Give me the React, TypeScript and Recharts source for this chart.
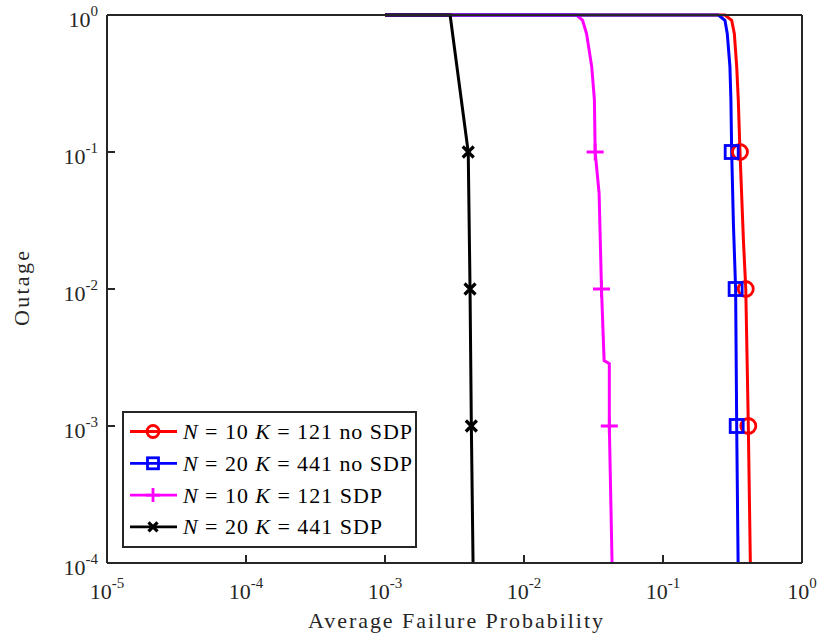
import React from 'react';
import { LineChart, Line, XAxis, YAxis } from 'recharts';

const xTicks = [1e-5, 1e-4, 1e-3, 1e-2, 1e-1, 1];
const yTicks = [1e-4, 1e-3, 1e-2, 1e-1, 1];
const markerLevels = [0.1, 0.01, 0.001];

// N = 10, K = 121, no SDP
const redX = [0.001, 0.279, 0.312, 0.326, 0.339, 0.348, 0.358, 0.379, 0.394, 0.411, 0.425];
const redY = [1, 1, 0.915, 0.73, 0.42, 0.24, 0.1, 0.0226, 0.01, 0.001, 0.0001];

// N = 20, K = 441, no SDP
const blueX = [0.001, 0.25, 0.279, 0.29, 0.303, 0.308, 0.312, 0.321, 0.333, 0.339, 0.347];
const blueY = [1, 1, 0.915, 0.73, 0.42, 0.24, 0.1, 0.03, 0.01, 0.001, 0.0001];

// N = 10, K = 121, SDP
const magentaX = [0.001, 0.0239, 0.0264, 0.0282, 0.0307, 0.0321, 0.0325, 0.0347, 0.0361, 0.0377, 0.0411, 0.0411, 0.043];
const magentaY = [1, 1, 0.915, 0.73, 0.42, 0.24, 0.1, 0.05, 0.01, 0.003, 0.00285, 0.001, 0.0001];

// N = 20, K = 441, SDP
const blackX = [0.001, 0.00294, 0.00397, 0.00409, 0.00418, 0.0043];
const blackY = [1, 1, 0.1, 0.01, 0.001, 0.0001];

const legendN = ['10', '20', '10', '20'];
const legendK = ['121', '441', '121', '441'];
const legendTail = ['no SDP', 'no SDP', 'SDP', 'SDP'];

const axisColor = '#262626';
const font = '"Liberation Serif", "Times New Roman", serif';

const toPoints = (xs: number[], ys: number[]) => xs.map((x, i) => ({ x, y: ys[i] }));

type Kind = 'circle' | 'square' | 'plus' | 'cross';

const series = [
  { key: 'red', color: '#ff0000', kind: 'circle' as Kind, data: toPoints(redX, redY), size: 7.5 },
  { key: 'magenta', color: '#ff00ff', kind: 'plus' as Kind, data: toPoints(magentaX, magentaY), size: 8.5 },
  { key: 'blue', color: '#0000ff', kind: 'square' as Kind, data: toPoints(blueX, blueY), size: 6.5 },
  { key: 'black', color: '#000000', kind: 'cross' as Kind, data: toPoints(blackX, blackY), size: 5.5 },
];

const legendOrder = [
  { color: '#ff0000', kind: 'circle' as Kind, size: 6 },
  { color: '#0000ff', kind: 'square' as Kind, size: 5.5 },
  { color: '#ff00ff', kind: 'plus' as Kind, size: 7 },
  { color: '#000000', kind: 'cross' as Kind, size: 4.5 },
];

const Marker = ({ kind, cx, cy, color, s }: { kind: Kind; cx: number; cy: number; color: string; s: number }) => {
  const common = { fill: 'none', stroke: color, strokeWidth: 2.8 };
  if (kind === 'circle') return <circle cx={cx} cy={cy} r={s} {...common} />;
  if (kind === 'square') return <rect x={cx - s} y={cy - s} width={2 * s} height={2 * s} {...common} />;
  if (kind === 'plus') return <path d={`M${cx - s},${cy}H${cx + s}M${cx},${cy - s}V${cy + s}`} {...common} />;
  return <path d={`M${cx - s},${cy - s}L${cx + s},${cy + s}M${cx + s},${cy - s}L${cx - s},${cy + s}`} {...common} strokeWidth={3.2} />;
};

const makeDot = (kind: Kind, color: string, s: number) => (props: any) => {
  const { cx, cy, payload, index } = props;
  if (!markerLevels.includes(payload.y)) return <g key={`d${index}`} />;
  return <g key={`d${index}`}><Marker kind={kind} cx={cx} cy={cy} color={color} s={s} /></g>;
};

const exponent = (v: number) => Math.round(Math.log10(v));

const BottomTick = ({ x, y, payload }: any) => (
  <g>
    <line x1={x} y1={y} x2={x} y2={y - 8} stroke={axisColor} strokeWidth={2} />
    <text x={x} y={y + 36} textAnchor="middle" fontFamily={font} fontSize={22} fill={axisColor}>
      10<tspan dy={-11} fontSize={15}>{exponent(payload.value)}</tspan>
    </text>
  </g>
);

const TopTick = ({ x, y }: any) => (
  <line x1={x} y1={y} x2={x} y2={y + 8} stroke={axisColor} strokeWidth={2} />
);

const LeftTick = ({ x, y, payload }: any) => (
  <g>
    <line x1={x} y1={y} x2={x + 8} y2={y} stroke={axisColor} strokeWidth={2} />
    <text x={x - 9} y={y + 12} textAnchor="end" fontFamily={font} fontSize={22} fill={axisColor}>
      10<tspan dy={-11} fontSize={15}>{exponent(payload.value)}</tspan>
    </text>
  </g>
);

const RightTick = ({ x, y }: any) => (
  <line x1={x} y1={y} x2={x - 8} y2={y} stroke={axisColor} strokeWidth={2} />
);

const legendWidths = [229, 229, 199, 199];

const ChartLegend = () => (
  <svg width={296} height={138} style={{ position: 'absolute', left: 122, top: 411 }}>
    <rect x={1} y={1} width={293} height={135} fill="#ffffff" stroke={axisColor} strokeWidth={2} />
    {legendOrder.map((item, i) => {
      const cy = 20.5 + i * 31.8;
      return (
        <g key={i}>
          <line x1={8} y1={cy} x2={55} y2={cy} stroke={item.color} strokeWidth={2.8} />
          <Marker kind={item.kind} cx={31} cy={cy} color={item.color} s={item.size} />
          <text
            x={61}
            y={cy + 7.5}
            fontFamily={font}
            fontSize={22}
            fill="#000"
            textLength={legendWidths[i]}
            style={{ whiteSpace: 'pre' }}
          >
            <tspan fontStyle="italic">N</tspan>{` = ${legendN[i]} `}
            <tspan fontStyle="italic">K</tspan>{` = ${legendK[i]} ${legendTail[i]}`}
          </text>
        </g>
      );
    })}
  </svg>
);

export default function App() {
  return (
    <div style={{ position: 'absolute', left: 0, top: 0, width: 821, height: 639, background: '#fff' }}>
      <LineChart width={821} height={639} margin={{ top: 5, right: 9, left: 47, bottom: 36 }}>
        <XAxis
          xAxisId="bottom"
          type="number"
          dataKey="x"
          scale="log"
          domain={[1e-5, 1]}
          ticks={xTicks}
          orientation="bottom"
          height={40}
          tickSize={0}
          tickMargin={0}
          tickLine={false}
          tick={<BottomTick />}
          axisLine={{ stroke: axisColor, strokeWidth: 2 }}
          label={{
            content: () => (
              <text x={455.5} y={628} textAnchor="middle" fontFamily={font} fontSize={22} fill={axisColor} textLength={295}>
                Average Failure Probability
              </text>
            ),
          }}
        />
        <XAxis
          xAxisId="top"
          type="number"
          dataKey="x"
          scale="log"
          domain={[1e-5, 1]}
          ticks={xTicks}
          orientation="top"
          height={10}
          tickSize={0}
          tickMargin={0}
          tickLine={false}
          tick={<TopTick />}
          axisLine={{ stroke: axisColor, strokeWidth: 2 }}
        />
        <YAxis
          yAxisId="left"
          type="number"
          dataKey="y"
          scale="log"
          domain={[1e-4, 1]}
          ticks={yTicks}
          orientation="left"
          width={60}
          tickSize={0}
          tickMargin={0}
          tickLine={false}
          tick={<LeftTick />}
          axisLine={{ stroke: axisColor, strokeWidth: 2 }}
          label={{
            content: () => (
              <text
                x={29}
                y={288.5}
                transform="rotate(-90 29 288.5)"
                textAnchor="middle"
                fontFamily={font}
                fontSize={22}
                fill={axisColor}
                textLength={75}
              >
                Outage
              </text>
            ),
          }}
        />
        <YAxis
          yAxisId="right"
          type="number"
          dataKey="y"
          scale="log"
          domain={[1e-4, 1]}
          ticks={yTicks}
          orientation="right"
          width={10}
          tickSize={0}
          tickMargin={0}
          tickLine={false}
          tick={<RightTick />}
          axisLine={{ stroke: axisColor, strokeWidth: 2 }}
        />
        {series.map((s) => (
          <Line
            key={s.key}
            xAxisId="bottom"
            yAxisId="left"
            data={s.data}
            dataKey="y"
            type="linear"
            stroke={s.color}
            strokeWidth={3}
            dot={makeDot(s.kind, s.color, s.size)}
            activeDot={false}
            isAnimationActive={false}
          />
        ))}
      </LineChart>
      <ChartLegend />
    </div>
  );
}
